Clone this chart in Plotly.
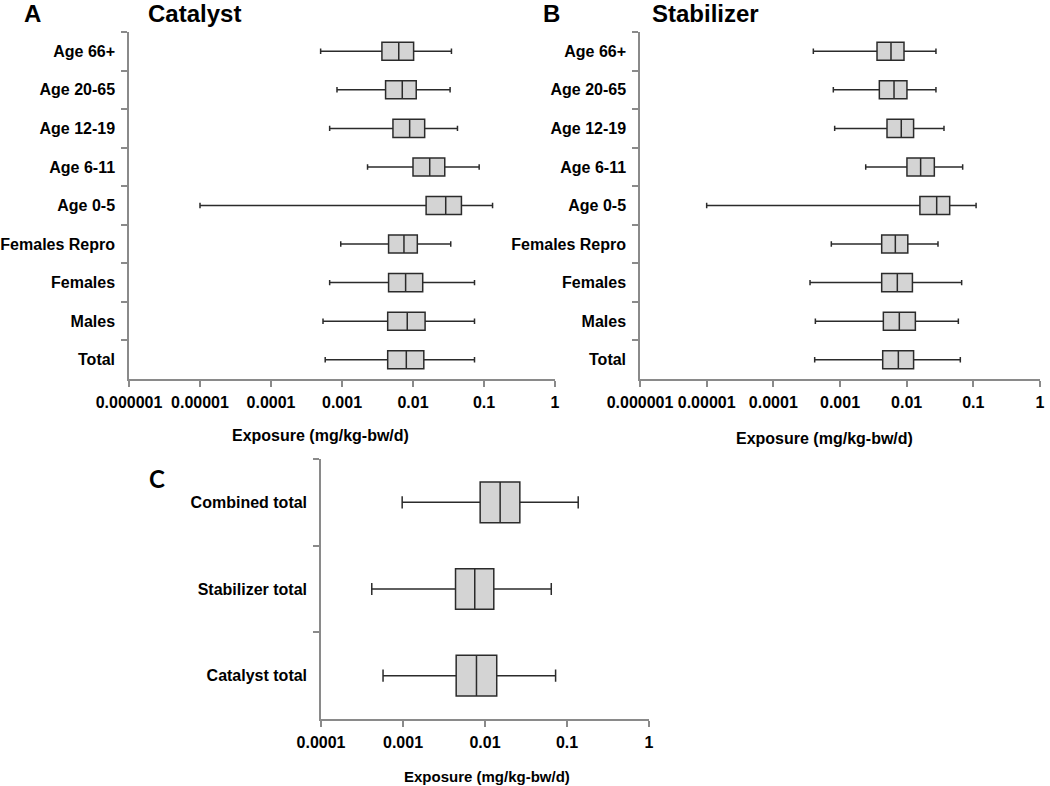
import plotly.graph_objects as go

# ---------------- data ----------------
groups = ["Age 66+", "Age 20-65", "Age 12-19", "Age 6-11", "Age 0-5",
          "Females Repro", "Females", "Males", "Total"]

cat_low = [0.00050, 0.00085, 0.00067, 0.00229, 0.00001, 0.00096, 0.00067, 0.00054, 0.00058]
cat_q1 = [0.00365, 0.00411, 0.00522, 0.0100, 0.0153, 0.00453, 0.00453, 0.0044, 0.0044]
cat_med = [0.0063, 0.00706, 0.00897, 0.0172, 0.0289, 0.00746, 0.00787, 0.0083, 0.00805]
cat_q3 = [0.0102, 0.0111, 0.0146, 0.028, 0.0481, 0.0115, 0.0137, 0.0148, 0.0142]
cat_high = [0.0348, 0.0333, 0.0423, 0.0855, 0.132, 0.034, 0.0735, 0.0735, 0.0735]

stab_low = [0.000398, 0.000794, 0.000832, 0.00243, 0.00001, 0.000741, 0.000355, 0.000427, 0.000417]
stab_q1 = [0.00359, 0.00389, 0.00507, 0.0101, 0.0158, 0.00422, 0.00422, 0.00447, 0.00437]
stab_med = [0.00582, 0.00646, 0.0083, 0.0162, 0.0282, 0.00676, 0.00724, 0.00776, 0.0075]
stab_q3 = [0.00912, 0.0101, 0.0127, 0.026, 0.0442, 0.0104, 0.0122, 0.0135, 0.0127]
stab_high = [0.0275, 0.0275, 0.0363, 0.0692, 0.11, 0.0295, 0.0668, 0.0596, 0.0638]

totals = ["Combined total", "Stabilizer total", "Catalyst total"]
tot_low = [0.000977, 0.000416, 0.000571]
tot_q1 = [0.00873, 0.00437, 0.00445]
tot_med = [0.0153, 0.0075, 0.00787]
tot_q3 = [0.0266, 0.0128, 0.0139]
tot_high = [0.137, 0.0643, 0.0726]

ticks_ab = [0.000001, 0.00001, 0.0001, 0.001, 0.01, 0.1, 1]
ticktext_ab = ["0.000001", "0.00001", "0.0001", "0.001", "0.01", "0.1", "1"]
ticks_c = [0.0001, 0.001, 0.01, 0.1, 1]
ticktext_c = ["0.0001", "0.001", "0.01", "0.1", "1"]

# ---------------- figure ----------------
W, H = 1050, 786
FILL = "#d4d4d4"
EDGE = "#2b2b2b"
AXC = "#8a8a8a"
ARIAL = "Liberation Sans, Arial, sans-serif"
NARROW = "Liberation Sans Narrow, Arial Narrow, Liberation Sans, sans-serif"
CALIBRI = "Lato, Open Sans, sans-serif"


def fx(x):
    return x / W


def fy(y):
    return 1 - y / H


def box(y, low, q1, med, q3, high, xa, ya):
    return go.Box(
        y=y, q1=q1, median=med, q3=q3, lowerfence=low, upperfence=high,
        orientation="h", fillcolor=FILL, line=dict(color=EDGE, width=1.5),
        whiskerwidth=0.3, boxpoints=False, hoverinfo="skip",
        xaxis=xa, yaxis=ya, showlegend=False,
    )


fig = go.Figure()
fig.add_trace(box(groups, cat_low, cat_q1, cat_med, cat_q3, cat_high, "x", "y"))
fig.add_trace(box(groups, stab_low, stab_q1, stab_med, stab_q3, stab_high, "x2", "y2"))
fig.add_trace(box(totals, tot_low, tot_q1, tot_med, tot_q3, tot_high, "x3", "y3"))


def xax(domain, anchor, rng, vals, texts, font):
    return dict(domain=domain, anchor=anchor, type="log", range=rng,
                tickvals=vals, ticktext=texts, showgrid=False, zeroline=False,
                showline=True, linecolor=AXC, linewidth=1.5, automargin=False,
                ticks="outside", ticklen=6, tickcolor=AXC, tickwidth=1.5,
                tickfont=font, ticklabelstandoff=2)


def yax(domain, anchor, cats, font):
    return dict(domain=domain, anchor=anchor, type="category",
                categoryorder="array", categoryarray=cats, automargin=False,
                range=[len(cats) - 0.5, -0.5], showgrid=False, zeroline=False,
                showline=True, linecolor=AXC, linewidth=1.5,
                ticks="outside", ticklen=6, tickcolor=AXC, tickwidth=1.5,
                tickson="boundaries", tickfont=font, ticklabelstandoff=9)


fab = dict(family=ARIAL, size=16, color="black", weight="bold")
fcy = dict(family=NARROW, size=16, color="black", weight="bold")
fcx = dict(family=NARROW, size=16, color="black", weight="bold")

ya_dom = [fy(379), fy(32)]
fig.update_layout(
    width=W, height=H, margin=dict(l=0, r=0, t=0, b=0, autoexpand=False),
    paper_bgcolor="white", plot_bgcolor="white", boxgap=0.33,
    xaxis=xax([fx(129), fx(555)], "y", [-6, 0], ticks_ab, ticktext_ab, fab),
    yaxis=yax(ya_dom, "x", groups, fab),
    xaxis2=xax([fx(640), fx(1040)], "y2", [-6, 0], ticks_ab, ticktext_ab, fab),
    yaxis2=yax(ya_dom, "x2", groups, fab),
    xaxis3=xax([fx(321), fx(649)], "y3", [-4, 0], ticks_c, ticktext_c, fcx),
    yaxis3=yax([fy(719), fy(459)], "x3", totals, fcy),
)


def ann(text, x, y, size, family, xanchor="left"):
    fig.add_annotation(text=text, x=fx(x), y=fy(y), xref="paper", yref="paper",
                       xanchor=xanchor, yanchor="middle", showarrow=False,
                       font=dict(family=family, size=size, color="black", weight="bold"))


ann("A", 22, 13, 24, ARIAL)
ann("Catalyst", 146, 13, 24, ARIAL)
ann("B", 541, 13, 24, ARIAL)
ann("Stabilizer", 650, 13, 24, ARIAL)
ann("C", 147, 478, 24, CALIBRI)
ann("Exposure (mg/kg-bw/d)", 320, 435, 16, ARIAL, "center")
ann("Exposure (mg/kg-bw/d)", 824, 438, 16, ARIAL, "center")
ann("Exposure (mg/kg-bw/d)", 487, 776, 15, NARROW, "center")

fig.write_html("out.html",
               config={"displayModeBar": False},
               post_script="document.body.style.margin='0px';"
                           "document.body.style.overflow='hidden';")
